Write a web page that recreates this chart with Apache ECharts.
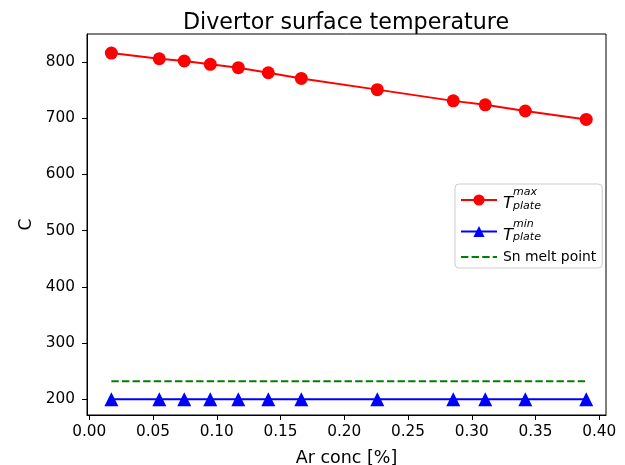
<!DOCTYPE html>
<html>
<head>
<meta charset="utf-8">
<script src="https://cdn.jsdelivr.net/npm/echarts@6/dist/echarts.min.js"></script>
<style>
  html, body { margin: 0; padding: 0; background: #fff; }
  #main { width: 625px; height: 465px; }
</style>
</head>
<body>
<div id="main"></div>
<script>
// Ar concentration [%]
var arConc = [0.0173, 0.0549, 0.0745, 0.0949, 0.1169, 0.1404, 0.1663, 0.2259, 0.2855, 0.3106, 0.3420, 0.3898];
var tMax = [816, 806, 802, 796, 790, 781, 771, 751, 731, 724, 713, 698];
var tMin = [200, 200, 200, 200, 200, 200, 200, 200, 200, 200, 200, 200];
var snMelt = 231.9;

function pairs(xs, ys) {
	return xs.map(function (x, i) { return [x, ys[i]]; });
}

var chart = echarts.init(document.getElementById('main'));
var font = 'DejaVu Sans';

var option = {
	animation: false,
	title: {
		text: 'Divertor surface temperature',
		left: 341, textAlign: 'center',
		top: 7,
		textStyle: { fontFamily: font, fontSize: 22.2, fontWeight: 'normal', color: '#000' }
	},
	grid: {
		left: 87, right: 19, top: 34, bottom: 50,
		outerBoundsMode: 'none',
		show: true, borderColor: '#000', borderWidth: 1
	},
	legend: {
		orient: 'vertical',
		left: 455, top: 184,
		itemWidth: 36, itemHeight: 14, itemGap: 3,
		padding: [0, 6, 1, 5],
		backgroundColor: '#fff',
		borderColor: '#ccc', borderWidth: 1, borderRadius: 4,
		textStyle: {
			fontFamily: font, fontSize: 13.9, color: '#000',
			padding: [0, 0, 0, 1],
			lineHeight: 20,
			rich: {
				sp: { fontSize: 16.5, fontStyle: 'italic', color: 'rgba(0,0,0,0)', lineHeight: 8, fontFamily: font },
				sup: { fontSize: 11, fontStyle: 'italic', lineHeight: 8, fontFamily: font, color: '#000' },
				T: { fontSize: 16.5, fontStyle: 'italic', lineHeight: 15, fontFamily: font, color: '#000' },
				sub: { fontSize: 11, fontStyle: 'italic', lineHeight: 15, fontFamily: font, color: '#000', verticalAlign: 'bottom' }
			}
		},
		formatter: function (name) {
			if (name === 'Tmax') return '{sp|T}{sup|max}\n{T|T}{sub|plate}';
			if (name === 'Tmin') return '{sp|T}{sup|min}\n{T|T}{sub|plate}';
			return name;
		},
		data: [
			'Tmax',
			'Tmin',
			{ name: 'Sn melt point', itemStyle: { opacity: 0 } }
		]
	},
	xAxis: {
		type: 'value',
		min: -0.0018, max: 0.4053,
		splitNumber: 8, minInterval: 0.05, maxInterval: 0.05,
		name: 'Ar conc [%]',
		nameLocation: 'middle', nameGap: 34,
		nameTextStyle: { fontFamily: font, fontSize: 17.5, color: '#000' },
		axisLine: { show: true, onZero: false, lineStyle: { color: '#000' } },
		axisTick: { show: true, length: 5, lineStyle: { color: '#000' } },
		axisLabel: {
			fontFamily: font, fontSize: 15.3, color: '#000', margin: 10,
			showMinLabel: false, showMaxLabel: false,
			formatter: function (v) { return v.toFixed(2); }
		},
		splitLine: { show: false }
	},
	yAxis: {
		type: 'value',
		min: 172, max: 850,
		splitNumber: 7, minInterval: 100, maxInterval: 100,
		name: 'C',
		nameLocation: 'middle', nameGap: 46, nameRotate: 90,
		nameTextStyle: { fontFamily: font, fontSize: 17, color: '#000' },
		axisLine: { show: true, onZero: false, lineStyle: { color: '#000' } },
		axisTick: { show: true, length: 5, lineStyle: { color: '#000' } },
		axisLabel: {
			fontFamily: font, fontSize: 15.3, color: '#000', margin: 12,
			showMinLabel: false, showMaxLabel: false
		},
		splitLine: { show: false }
	},
	series: [
		{
			name: 'Tmax', type: 'line',
			data: pairs(arConc, tMax),
			symbol: 'circle', symbolSize: 13,
			lineStyle: { color: '#ff0000', width: 2 },
			itemStyle: { color: '#ff0000' }
		},
		{
			name: 'Tmin', type: 'line',
			data: pairs(arConc, tMin),
			symbol: 'triangle', symbolSize: 14,
			lineStyle: { color: '#0000ff', width: 2 },
			itemStyle: { color: '#0000ff' }
		},
		{
			name: 'Sn melt point', type: 'line',
			data: [[arConc[0], snMelt], [arConc[arConc.length - 1], snMelt]],
			symbol: 'none',
			lineStyle: { color: '#008000', width: 2, type: [7.4, 3.2] },
			itemStyle: { color: '#008000' }
		}
	]
};

chart.setOption(option);
</script>
</body>
</html>
